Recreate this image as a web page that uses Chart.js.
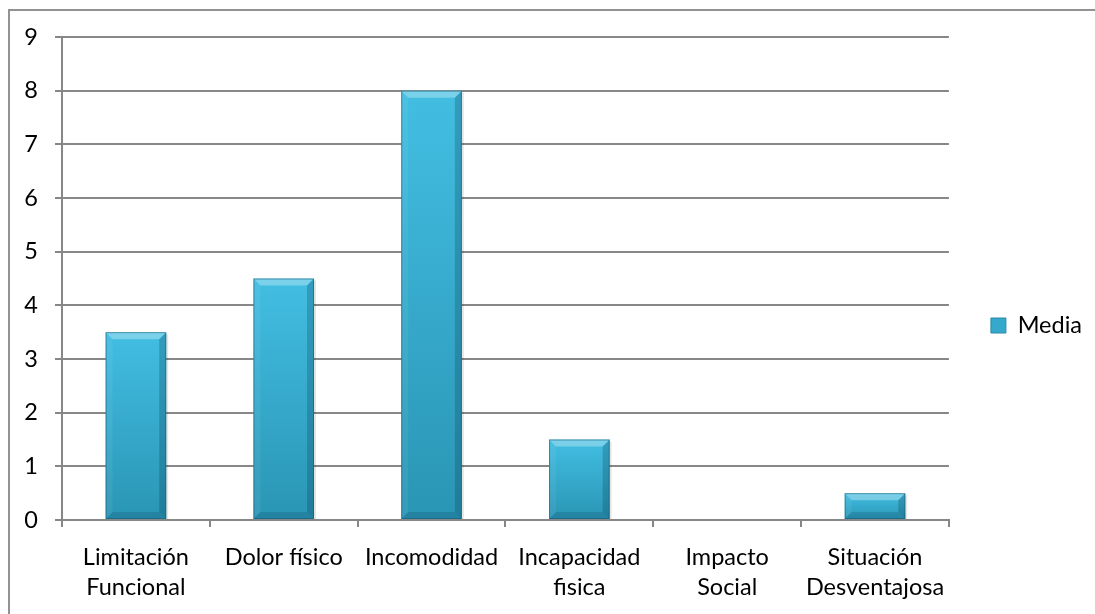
<!DOCTYPE html>
<html>
<head>
<meta charset="utf-8">
<script src="https://cdn.jsdelivr.net/npm/chart.js@4.4.1/dist/chart.umd.min.js"></script>
<style>
  html, body { margin: 0; padding: 0; background: #ffffff; overflow: hidden; }
  #wrap { position: relative; width: 1095px; height: 614px; overflow: hidden; }
  #frame { position: absolute; left: 8px; top: 9px; width: 1200px; height: 700px;
           border-left: 2px solid #929292; border-top: 2px solid #929292; box-sizing: border-box; }
  canvas { position: absolute; left: 0; top: 0; }
</style>
</head>
<body>
<div id="wrap">
  <div id="frame"></div>
  <canvas id="chart" width="1095" height="614"></canvas>
</div>
<script>
// Categories and values of the "Media" series
const categories = [
  ['Limitación', 'Funcional'],
  ['Dolor físico'],
  ['Incomodidad'],
  ['Incapacidad', 'fisica'],
  ['Impacto', 'Social'],
  ['Situación', 'Desventajosa']
];
const seriesName = 'Media';
const mediaValues = [3.5, 4.5, 8, 1.5, 0, 0.5];
const yTicks = [0, 1, 2, 3, 4, 5, 6, 7, 8, 9];

const FONT = 'Lato, "Open Sans", sans-serif';
const FONT_SIZE = 23.5;
const GRID = '#878787';

// Vertical gradient for each bar, spanning that bar's own height
function barGradient(context) {
  const chart = context.chart;
  const ys = chart.scales.y;
  if (!ys || context.type !== 'data') return '#37aed1';
  const top = ys.getPixelForValue(context.raw);
  const base = ys.getPixelForValue(0);
  if (!isFinite(top) || !isFinite(base) || top === base) return '#37aed1';
  const g = chart.ctx.createLinearGradient(0, top, 0, base);
  g.addColorStop(0, '#42bee2');
  g.addColorStop(1, '#2a95b4');
  return g;
}

// Bevelled edges drawn over each bar from its element geometry
const bevelPlugin = {
  id: 'bevel',
  afterDatasetsDraw(chart) {
    const ctx = chart.ctx;
    chart.getDatasetMeta(0).data.forEach(bar => {
      const p = bar.getProps(['x', 'y', 'base', 'width'], true);
      const l = p.x - p.width / 2, r = p.x + p.width / 2;
      const t = Math.min(p.y, p.base), b = Math.max(p.y, p.base);
      const h = b - t;
      if (h < 1) return;
      const e = Math.min(7, h / 2);
      const poly = (pts, fill) => {
        ctx.beginPath();
        ctx.moveTo(pts[0][0], pts[0][1]);
        for (let i = 1; i < pts.length; i++) ctx.lineTo(pts[i][0], pts[i][1]);
        ctx.closePath();
        ctx.fillStyle = fill;
        ctx.fill();
      };
      ctx.save();
      // soft shadow on the right side
      ctx.fillStyle = 'rgba(0,0,0,0.10)';
      ctx.fillRect(r, t + 2, 2, h - 2);
      poly([[l, t], [r, t], [r - e, t + e], [l + e, t + e]], 'rgba(255,255,255,0.30)');
      poly([[l, t], [l + e, t + e], [l + e, b - e], [l, b]], 'rgba(255,255,255,0.06)');
      poly([[r, t], [r, b], [r - e, b - e], [r - e, t + e]], 'rgba(0,40,60,0.22)');
      poly([[l, b], [l + e, b - e], [r - e, b - e], [r, b]], 'rgba(0,40,60,0.16)');
      ctx.strokeStyle = 'rgba(20,90,115,0.55)';
      ctx.lineWidth = 1;
      ctx.strokeRect(l + 0.5, t + 0.5, r - l - 1, h - 1);
      ctx.restore();
    });
  }
};

new Chart(document.getElementById('chart'), {
  type: 'bar',
  data: {
    labels: categories,
    datasets: [{
      label: seriesName,
      data: mediaValues,
      backgroundColor: barGradient,
      borderWidth: 0,
      categoryPercentage: 1,
      barPercentage: 0.41
    }]
  },
  options: {
    responsive: false,
    animation: false,
    devicePixelRatio: 1,
    layout: { padding: { top: 37, left: 0, right: 3, bottom: 0 } },
    plugins: {
      tooltip: { enabled: false },
      legend: {
        position: 'right',
        align: 'center',
        labels: {
          color: '#000000',
          font: { family: FONT, size: FONT_SIZE },
          boxWidth: 15,
          boxHeight: 15,
          padding: 42,
          generateLabels(chart) {
            return [{
              text: seriesName,
              fillStyle: '#35a9cc',
              strokeStyle: '#2a8aa8',
              lineWidth: 1,
              datasetIndex: 0,
              hidden: false
            }];
          }
        }
      }
    },
    scales: {
      x: {
        offset: true,
        grid: {
          offset: true,
          drawOnChartArea: false,
          drawTicks: true,
          tickLength: 7,
          color: GRID,
          lineWidth: 2
        },
        border: { color: GRID, width: 2 },
        ticks: {
          color: '#000000',
          font: { family: FONT, size: FONT_SIZE, lineHeight: 1.28 },
          padding: 15,
          maxRotation: 0,
          autoSkip: false
        },
        afterFit(scale) { scale.height = 614 - 520; }
      },
      y: {
        min: 0,
        max: 9,
        afterBuildTicks(scale) { scale.ticks = yTicks.map(v => ({ value: v })); },
        grid: {
          color: GRID,
          lineWidth: 2,
          tickLength: 7,
          drawTicks: true
        },
        border: { color: GRID, width: 2 },
        ticks: {
          color: '#000000',
          font: { family: FONT, size: FONT_SIZE },
          padding: 17
        },
        afterFit(scale) { scale.width = 62; }
      }
    }
  },
  plugins: [bevelPlugin]
});
</script>
</body>
</html>
